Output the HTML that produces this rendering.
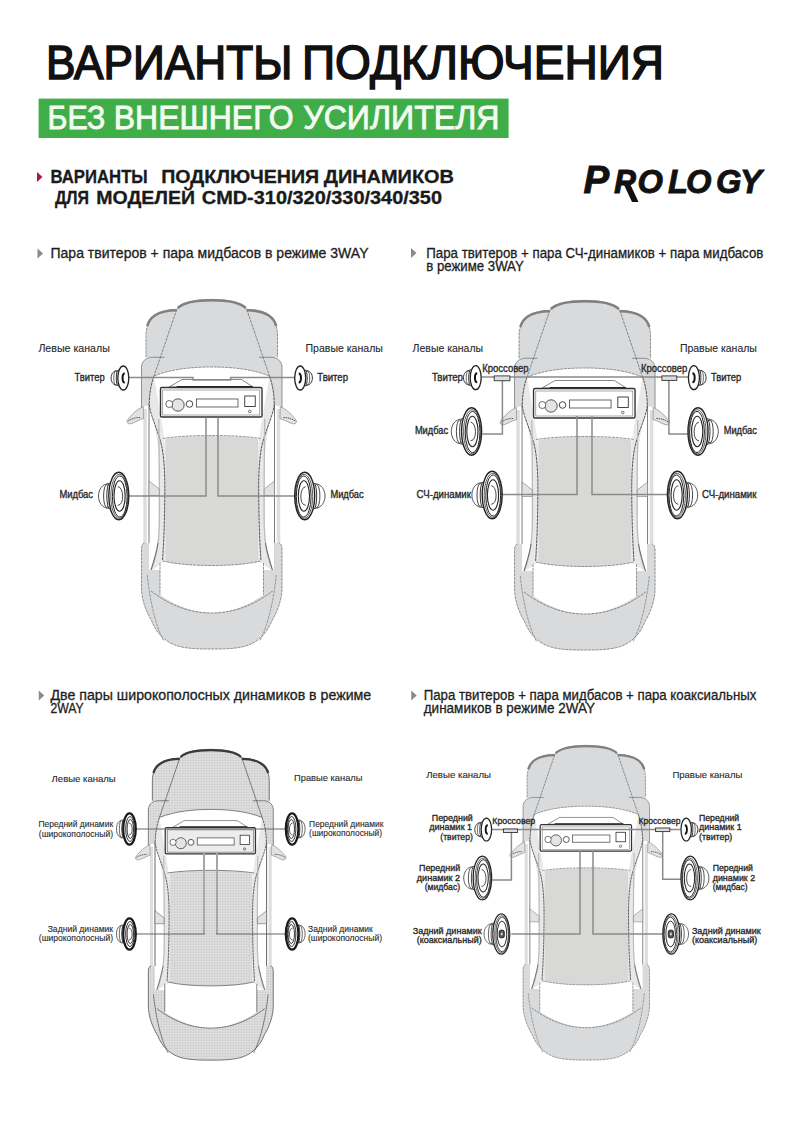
<!DOCTYPE html><html><head><meta charset="utf-8"><style>html,body{margin:0;padding:0;background:#fff;}svg{display:block;}</style></head><body>
<svg width="800" height="1131" viewBox="0 0 800 1131" style="font-family:'Liberation Sans', sans-serif">
<defs><pattern id="mesh" width="1.8" height="1.8" patternUnits="userSpaceOnUse"><rect width="1.8" height="1.8" fill="#ededed"/><rect width="1.8" height="0.6" fill="#c8c8c8"/><rect width="0.6" height="1.8" fill="#c8c8c8"/></pattern>
<g id="car">
  <!-- front panel (hood + fenders + A-pillar base) -->
  <path d="M0,0.4 C-18,0.4 -30,4 -35,10.4 C-43,10.4 -52,12.5 -58.5,17.5 C-63.5,22 -65.75,29 -65.75,36 L-65.75,58.25 L-59.25,58.25 C-64,58.25 -70.25,61 -70.25,68.5 L-70.25,108 L-62.75,106 C-62,96 -61,88 -57.75,77 C-40,70 -20,68 0,68 C20,68 40,70 57.75,77 C61,88 62,96 62.75,106 L70.25,108 L70.25,68.5 C70.25,61 64,58.25 59.25,58.25 L65.75,58.25 L65.75,36 C65.75,29 63.5,22 58.5,17.5 C52,12.5 43,10.4 35,10.4 C30,4 18,0.4 0,0.4 Z" fill="#d9dadc"/>
  <path d="M-65.75,58.25 L-65.75,36 C-65.75,29 -63.5,22 -58.5,17.5 C-52,12.5 -43,10.4 -35,10.4 C-30,4 -18,0.4 0,0.4 C18,0.4 30,4 35,10.4 C43,10.4 52,12.5 58.5,17.5 C63.5,22 65.75,29 65.75,36 L65.75,58.25" fill="none" stroke="#7a7a7a" stroke-width="0.8" stroke-dasharray="3 0.8"/>
  <path d="M-47.25,58.25 L-59.25,58.25 C-64,58.25 -70.25,61 -70.25,68.5 L-70.25,112" fill="none" stroke="#7a7a7a" stroke-width="0.8"/>
  <path d="M47.25,58.25 L59.25,58.25 C64,58.25 70.25,61 70.25,68.5 L70.25,112" fill="none" stroke="#7a7a7a" stroke-width="0.8"/>
  <!-- hood lines -->
  <path d="M-35,10.4 L-57.75,77 M35,10.4 L57.75,77" fill="none" stroke="#707070" stroke-width="0.8" stroke-dasharray="3 0.8"/>
  <path d="M-57.75,77 C-40,70 -20,68 0,68 C20,68 40,70 57.75,77" fill="none" stroke="#7a7a7a" stroke-width="0.8" stroke-dasharray="3 0.8"/>
  <!-- grille dark bands -->
  <path d="M-34,9 C-28,3 -16,1.2 0,1.2 C16,1.2 28,3 34,9" fill="none" stroke="#808080" stroke-width="2.6"/>
  <path d="M-64.5,27 C-63,21 -60,18.5 -57,16.5 C-51,12.5 -43,11.2 -35,11.2" fill="none" stroke="#808080" stroke-width="2.6"/>
  <path d="M64.5,27 C63,21 60,18.5 57,16.5 C51,12.5 43,11.2 35,11.2" fill="none" stroke="#808080" stroke-width="2.6"/>
  <!-- side strips -->
  <path d="M-68.5,110 L-65,110 L-65,270 L-68.5,270 Z M68.5,110 L65,110 L65,270 L68.5,270 Z" fill="#dedede"/>
  <path d="M-62.75,104 L-62.75,271 M62.75,104 L62.75,271" fill="none" stroke="#7a7a7a" stroke-width="1"/>
  <!-- light bands inside A-pillar -->
  <path d="M-62.75,106 C-58,118 -54,140 -53,160 L-53,228 C-53,245 -55,258 -61,272 L-46.5,262 L-46.5,150 C-48,130 -52,112 -57.75,77 C-61,88 -62,96 -62.75,106 Z" fill="#e8e8e8"/>
  <path d="M62.75,106 C58,118 54,140 53,160 L53,228 C53,245 55,258 61,272 L46.5,262 L46.5,150 C48,130 52,112 57.75,77 C61,88 62,96 62.75,106 Z" fill="#e8e8e8"/>
  <!-- roof -->
  <path d="M-46.5,140 C-25,136 25,136 46.5,140 L46.5,262.5 C25,268 -25,268 -46.5,262.5 Z" fill="#d8d8d7"/>
  <path d="M-48.75,139.5 C-25,135.5 25,135.5 48.75,139.5 M-48.75,262 C-25,268 25,268 48.75,262" fill="none" stroke="#7a7a7a" stroke-width="0.8" stroke-dasharray="3 0.8"/>
  <!-- A-pillar / side window dark curves -->
  <path d="M-57.75,77 C-61,86 -62.5,96 -62.5,106 C-61,118 -52,135 -49.5,150 C-47,165 -46.75,180 -47,200 C-47.25,230 -48.5,250 -49.15,261" fill="none" stroke="#444" stroke-width="0.9" stroke-dasharray="3 0.6"/>
  <path d="M57.75,77 C61,86 62.5,96 62.5,106 C61,118 52,135 49.5,150 C47,165 46.75,180 47,200 C47.25,230 48.5,250 49.15,261" fill="none" stroke="#444" stroke-width="0.9" stroke-dasharray="3 0.6"/>
  <path d="M-53,120 C-52.5,160 -52,200 -52.5,228 C-53,245 -55,258 -61,272 M53,120 C52.5,160 52,200 52.5,228 C53,245 55,258 61,272" fill="none" stroke="#bbb" stroke-width="1.3"/>
  <!-- small door panels -->
  <path d="M-62.75,182 L-52.5,190 L-52.5,196.5 L-62.75,196.5 Z M62.75,182 L52.5,190 L52.5,196.5 L62.75,196.5 Z" fill="#e2e2e2" stroke="#7a7a7a" stroke-width="0.6"/>
  <!-- mirrors -->
  <path d="M-68.5,107.5 C-74,110 -80,115 -84.5,121.5 C-85.5,124 -83,125.5 -80,124.5 C-76,123 -72,120.5 -68.25,119.5 Z" fill="#e2e2e2" stroke="#888" stroke-width="0.7"/><path d="M-83.5,122 C-80,119.5 -76,118.5 -71.5,118.5" fill="none" stroke="#444" stroke-width="0.9" stroke-dasharray="1.5 0.7"/>
  <path d="M68.5,107.5 C74,110 80,115 84.5,121.5 C85.5,124 83,125.5 80,124.5 C76,123 72,120.5 68.25,119.5 Z" fill="#e2e2e2" stroke="#888" stroke-width="0.7"/><path d="M83.5,122 C80,119.5 76,118.5 71.5,118.5" fill="none" stroke="#444" stroke-width="0.9" stroke-dasharray="1.5 0.7"/>
  <!-- rear panel -->
  <path d="M-67.25,244 C-68.5,244 -70.25,246 -70.25,250 L-70.25,289 C-70.25,300 -66,312 -60,322 C-55,335 -45,345 -30,348 C-20,350 -10,350 0,350 C10,350 20,350 30,348 C45,345 55,335 60,322 C66,312 70.25,300 70.25,289 L70.25,250 C70.25,246 68.5,244 67.25,244 L62.75,244 L62.75,271 L-62.75,271 L-62.75,244 Z" fill="#d9dadc"/>
  <path d="M-67.25,244 C-68.5,244 -70.25,246 -70.25,250 L-70.25,289 C-70.25,300 -66,312 -60,322 C-55,335 -45,345 -30,348 C-20,350 -10,350 0,350 C10,350 20,350 30,348 C45,345 55,335 60,322 C66,312 70.25,300 70.25,289 L70.25,250 C70.25,246 68.5,244 67.25,244" fill="none" stroke="#7a7a7a" stroke-width="0.8" stroke-dasharray="3 0.8"/>
  <path d="M-62.75,244 L-62.75,271 L-60.75,271 C-58,262 -55,252 -53.75,244 Z M62.75,244 L62.75,271 L60.75,271 C58,262 55,252 53.75,244 Z" fill="#fff"/>
  <path d="M-53.75,244 C-55,252 -58,262 -60.75,271 M53.75,244 C55,252 58,262 60.75,271" fill="none" stroke="#555" stroke-width="0.9"/>
  <path d="M-44,262.5 L-44,244 L-62.75,244 L-62.75,271 L-60.75,271 Z" fill="none"/>
  <!-- rear window -->
  <path d="M-51.75,264 C-25,269 25,269 51.75,264 L51.75,296 C40,304 20,314 0,314 C-20,314 -40,304 -51.75,296 Z" fill="#fff"/>
  <path d="M-51.75,264 L-51.75,296 M51.75,264 L51.75,296" fill="none" stroke="#7a7a7a" stroke-width="0.8" stroke-dasharray="3 0.8"/>
  <path d="M-60.75,292 C-45,304 -25,314 0,314 C25,314 45,304 60.75,292" fill="none" stroke="#707070" stroke-width="0.8" stroke-dasharray="3 0.8"/>
  <path d="M-64.5,276 C-62,300 -57,325 -48,342 M64.5,276 C62,300 57,325 48,342" fill="none" stroke="#7a7a7a" stroke-width="0.7" stroke-dasharray="3 0.8"/>
  <!-- head unit -->
  <path d="M-29.75,80.5 L29.75,80.5 L41.25,88 L-42.75,88 Z" fill="#fff" stroke="#555" stroke-width="0.7"/>
  <path d="M-35,87.6 L41,87.6" stroke="#222" stroke-width="1.2"/>
  <rect x="-51.25" y="88.5" width="101.5" height="29.5" rx="1.5" fill="#fff" stroke="#333" stroke-width="1.4"/>
  <rect x="-49" y="91" width="97" height="25" fill="none" stroke="#707070" stroke-width="0.6"/>
  <circle cx="-33.75" cy="106" r="6.2" fill="#e4e4e4" stroke="#444" stroke-width="0.9"/>
  <circle cx="-42.5" cy="105" r="3.5" fill="#fff" stroke="#444" stroke-width="0.8"/>
  <circle cx="-22.25" cy="105" r="3.3" fill="#fff" stroke="#333" stroke-width="0.9"/>
  <rect x="-15.25" y="100" width="41.5" height="8" fill="#fff" stroke="#444" stroke-width="0.8"/>
  <rect x="33" y="97" width="10.5" height="10.5" fill="#fff" stroke="#333" stroke-width="0.9"/>
  <circle cx="38" cy="112.5" r="1.3" fill="none" stroke="#333" stroke-width="0.7"/>
</g>

<g id="car3">
  <!-- front panel (hood + fenders + A-pillar base) -->
  <path d="M0,0.4 C-18,0.4 -30,4 -35,10.4 C-43,10.4 -52,12.5 -58.5,17.5 C-63.5,22 -65.75,29 -65.75,36 L-65.75,58.25 L-59.25,58.25 C-64,58.25 -70.25,61 -70.25,68.5 L-70.25,108 L-62.75,106 C-62,96 -61,88 -57.75,77 C-40,70 -20,68 0,68 C20,68 40,70 57.75,77 C61,88 62,96 62.75,106 L70.25,108 L70.25,68.5 C70.25,61 64,58.25 59.25,58.25 L65.75,58.25 L65.75,36 C65.75,29 63.5,22 58.5,17.5 C52,12.5 43,10.4 35,10.4 C30,4 18,0.4 0,0.4 Z" fill="url(#mesh)"/>
  <path d="M-65.75,58.25 L-65.75,36 C-65.75,29 -63.5,22 -58.5,17.5 C-52,12.5 -43,10.4 -35,10.4 C-30,4 -18,0.4 0,0.4 C18,0.4 30,4 35,10.4 C43,10.4 52,12.5 58.5,17.5 C63.5,22 65.75,29 65.75,36 L65.75,58.25" fill="none" stroke="#444" stroke-width="0.8" />
  <path d="M-47.25,58.25 L-59.25,58.25 C-64,58.25 -70.25,61 -70.25,68.5 L-70.25,112" fill="none" stroke="#555" stroke-width="0.8"/>
  <path d="M47.25,58.25 L59.25,58.25 C64,58.25 70.25,61 70.25,68.5 L70.25,112" fill="none" stroke="#555" stroke-width="0.8"/>
  <!-- hood lines -->
  <path d="M-35,10.4 L-57.75,77 M35,10.4 L57.75,77" fill="none" stroke="#555" stroke-width="0.8" />
  <path d="M-57.75,77 C-40,70 -20,68 0,68 C20,68 40,70 57.75,77" fill="none" stroke="#555" stroke-width="0.8" />
  <!-- grille dark bands -->
  <path d="M-34,9 C-28,3 -16,1.2 0,1.2 C16,1.2 28,3 34,9" fill="none" stroke="#3a3a3a" stroke-width="2.6"/>
  <path d="M-64.5,27 C-63,21 -60,18.5 -57,16.5 C-51,12.5 -43,11.2 -35,11.2" fill="none" stroke="#3a3a3a" stroke-width="2.6"/>
  <path d="M64.5,27 C63,21 60,18.5 57,16.5 C51,12.5 43,11.2 35,11.2" fill="none" stroke="#3a3a3a" stroke-width="2.6"/>
  <!-- side strips -->
  <path d="M-68.5,110 L-65,110 L-65,270 L-68.5,270 Z M68.5,110 L65,110 L65,270 L68.5,270 Z" fill="#dedede"/>
  <path d="M-62.75,104 L-62.75,271 M62.75,104 L62.75,271" fill="none" stroke="#555" stroke-width="1"/>
  <!-- light bands inside A-pillar -->
  <path d="M-62.75,106 C-58,118 -54,140 -53,160 L-53,228 C-53,245 -55,258 -61,272 L-46.5,262 L-46.5,150 C-48,130 -52,112 -57.75,77 C-61,88 -62,96 -62.75,106 Z" fill="#e8e8e8"/>
  <path d="M62.75,106 C58,118 54,140 53,160 L53,228 C53,245 55,258 61,272 L46.5,262 L46.5,150 C48,130 52,112 57.75,77 C61,88 62,96 62.75,106 Z" fill="#e8e8e8"/>
  <!-- roof -->
  <path d="M-46.5,140 C-25,136 25,136 46.5,140 L46.5,262.5 C25,268 -25,268 -46.5,262.5 Z" fill="url(#mesh)"/>
  <path d="M-48.75,139.5 C-25,135.5 25,135.5 48.75,139.5 M-48.75,262 C-25,268 25,268 48.75,262" fill="none" stroke="#555" stroke-width="0.8" />
  <!-- A-pillar / side window dark curves -->
  <path d="M-57.75,77 C-61,86 -62.5,96 -62.5,106 C-61,118 -52,135 -49.5,150 C-47,165 -46.75,180 -47,200 C-47.25,230 -48.5,250 -49.15,261" fill="none" stroke="#444" stroke-width="0.9" stroke-dasharray="3 0.6"/>
  <path d="M57.75,77 C61,86 62.5,96 62.5,106 C61,118 52,135 49.5,150 C47,165 46.75,180 47,200 C47.25,230 48.5,250 49.15,261" fill="none" stroke="#444" stroke-width="0.9" stroke-dasharray="3 0.6"/>
  <path d="M-53,120 C-52.5,160 -52,200 -52.5,228 C-53,245 -55,258 -61,272 M53,120 C52.5,160 52,200 52.5,228 C53,245 55,258 61,272" fill="none" stroke="#bbb" stroke-width="1.3"/>
  <!-- small door panels -->
  <path d="M-62.75,182 L-52.5,190 L-52.5,196.5 L-62.75,196.5 Z M62.75,182 L52.5,190 L52.5,196.5 L62.75,196.5 Z" fill="#e2e2e2" stroke="#555" stroke-width="0.6"/>
  <!-- mirrors -->
  <path d="M-68.5,107.5 C-74,110 -80,115 -84.5,121.5 C-85.5,124 -83,125.5 -80,124.5 C-76,123 -72,120.5 -68.25,119.5 Z" fill="#e2e2e2" stroke="#888" stroke-width="0.7"/><path d="M-83.5,122 C-80,119.5 -76,118.5 -71.5,118.5" fill="none" stroke="#444" stroke-width="0.9" stroke-dasharray="1.5 0.7"/>
  <path d="M68.5,107.5 C74,110 80,115 84.5,121.5 C85.5,124 83,125.5 80,124.5 C76,123 72,120.5 68.25,119.5 Z" fill="#e2e2e2" stroke="#888" stroke-width="0.7"/><path d="M83.5,122 C80,119.5 76,118.5 71.5,118.5" fill="none" stroke="#444" stroke-width="0.9" stroke-dasharray="1.5 0.7"/>
  <!-- rear panel -->
  <path d="M-67.25,244 C-68.5,244 -70.25,246 -70.25,250 L-70.25,289 C-70.25,300 -66,312 -60,322 C-55,335 -45,345 -30,348 C-20,350 -10,350 0,350 C10,350 20,350 30,348 C45,345 55,335 60,322 C66,312 70.25,300 70.25,289 L70.25,250 C70.25,246 68.5,244 67.25,244 L62.75,244 L62.75,271 L-62.75,271 L-62.75,244 Z" fill="url(#mesh)"/>
  <path d="M-67.25,244 C-68.5,244 -70.25,246 -70.25,250 L-70.25,289 C-70.25,300 -66,312 -60,322 C-55,335 -45,345 -30,348 C-20,350 -10,350 0,350 C10,350 20,350 30,348 C45,345 55,335 60,322 C66,312 70.25,300 70.25,289 L70.25,250 C70.25,246 68.5,244 67.25,244" fill="none" stroke="#444" stroke-width="0.8" />
  <path d="M-62.75,244 L-62.75,271 L-60.75,271 C-58,262 -55,252 -53.75,244 Z M62.75,244 L62.75,271 L60.75,271 C58,262 55,252 53.75,244 Z" fill="#fff"/>
  <path d="M-53.75,244 C-55,252 -58,262 -60.75,271 M53.75,244 C55,252 58,262 60.75,271" fill="none" stroke="#555" stroke-width="0.9"/>
  <path d="M-44,262.5 L-44,244 L-62.75,244 L-62.75,271 L-60.75,271 Z" fill="none"/>
  <!-- rear window -->
  <path d="M-51.75,264 C-25,269 25,269 51.75,264 L51.75,296 C40,304 20,314 0,314 C-20,314 -40,304 -51.75,296 Z" fill="#fff"/>
  <path d="M-51.75,264 L-51.75,296 M51.75,264 L51.75,296" fill="none" stroke="#555" stroke-width="0.8" />
  <path d="M-60.75,292 C-45,304 -25,314 0,314 C25,314 45,304 60.75,292" fill="none" stroke="#555" stroke-width="0.8" />
  <path d="M-64.5,276 C-62,300 -57,325 -48,342 M64.5,276 C62,300 57,325 48,342" fill="none" stroke="#444" stroke-width="0.7" />
  <!-- head unit -->
  <path d="M-29.75,80.5 L29.75,80.5 L41.25,88 L-42.75,88 Z" fill="#fff" stroke="#555" stroke-width="0.7"/>
  <path d="M-35,87.6 L41,87.6" stroke="#222" stroke-width="1.2"/>
  <rect x="-51.25" y="88.5" width="101.5" height="29.5" rx="1.5" fill="#ececec" stroke="#333" stroke-width="1.4"/>
  <rect x="-49" y="91" width="97" height="25" fill="none" stroke="#555" stroke-width="0.6"/>
  <circle cx="-33.75" cy="106" r="6.2" fill="#e4e4e4" stroke="#444" stroke-width="0.9"/>
  <circle cx="-42.5" cy="105" r="3.5" fill="#fff" stroke="#444" stroke-width="0.8"/>
  <circle cx="-22.25" cy="105" r="3.3" fill="#fff" stroke="#333" stroke-width="0.9"/>
  <rect x="-15.25" y="100" width="41.5" height="8" fill="#fff" stroke="#444" stroke-width="0.8"/>
  <rect x="33" y="97" width="10.5" height="10.5" fill="#fff" stroke="#333" stroke-width="0.9"/>
  <circle cx="38" cy="112.5" r="1.3" fill="none" stroke="#333" stroke-width="0.7"/>
</g>
</defs>
<rect width="800" height="1131" fill="#fff"/>
<text x="46" y="78.75" font-size="49" font-weight="normal" fill="#111" text-anchor="start" textLength="246.5" lengthAdjust="spacingAndGlyphs" stroke="#111" stroke-width="1.6">ВАРИАНТЫ</text>
<text x="302" y="78.75" font-size="49" font-weight="normal" fill="#111" text-anchor="start" textLength="362" lengthAdjust="spacingAndGlyphs" stroke="#111" stroke-width="1.6">ПОДКЛЮЧЕНИЯ</text>
<rect x="38.6" y="98.6" width="470" height="39.4" fill="#3fae49"/>
<text x="47.5" y="129" font-size="33.4" font-weight="normal" fill="#f2fbf0" text-anchor="start" textLength="57.75" lengthAdjust="spacingAndGlyphs" stroke="#f2fbf0" stroke-width="0.9">БЕЗ</text>
<text x="113.75" y="129" font-size="33.4" font-weight="normal" fill="#f2fbf0" text-anchor="start" textLength="179.75" lengthAdjust="spacingAndGlyphs" stroke="#f2fbf0" stroke-width="0.9">ВНЕШНЕГО</text>
<text x="303.25" y="129" font-size="33.4" font-weight="normal" fill="#f2fbf0" text-anchor="start" textLength="196.25" lengthAdjust="spacingAndGlyphs" stroke="#f2fbf0" stroke-width="0.9">УСИЛИТЕЛЯ</text>
<path d="M37,172 L42.5,177 L37,182 Z" fill="#a01c4c"/>
<text x="50.5" y="182.5" font-size="17.5" font-weight="bold" fill="#1a1a1a" text-anchor="start" textLength="97.25" lengthAdjust="spacingAndGlyphs" stroke="#1a1a1a" stroke-width="0.3">ВАРИАНТЫ</text>
<text x="161.2" y="182.5" font-size="17.5" font-weight="bold" fill="#1a1a1a" text-anchor="start" textLength="158.0" lengthAdjust="spacingAndGlyphs" stroke="#1a1a1a" stroke-width="0.3">ПОДКЛЮЧЕНИЯ</text>
<text x="323.7" y="182.5" font-size="17.5" font-weight="bold" fill="#1a1a1a" text-anchor="start" textLength="130.3" lengthAdjust="spacingAndGlyphs" stroke="#1a1a1a" stroke-width="0.3">ДИНАМИКОВ</text>
<text x="54.9" y="204" font-size="17.5" font-weight="bold" fill="#1a1a1a" text-anchor="start" textLength="34.1" lengthAdjust="spacingAndGlyphs" stroke="#1a1a1a" stroke-width="0.3">ДЛЯ</text>
<text x="96.25" y="204" font-size="17.5" font-weight="bold" fill="#1a1a1a" text-anchor="start" textLength="98.75" lengthAdjust="spacingAndGlyphs" stroke="#1a1a1a" stroke-width="0.3">МОДЕЛЕЙ</text>
<text x="201.75" y="204" font-size="17.5" font-weight="bold" fill="#1a1a1a" text-anchor="start" textLength="240.25" lengthAdjust="spacingAndGlyphs" stroke="#1a1a1a" stroke-width="0.3">CMD-310/320/330/340/350</text>
<text x="583.6" y="192.5" font-size="38.5" font-style="italic" font-weight="bold" fill="#111" stroke="#111" stroke-width="0.9">P</text>
<text x="614" y="192.5" font-size="32.7" font-style="italic" font-weight="bold" fill="#111" stroke="#111" stroke-width="0.9">P</text>
<text x="637.5" y="192.5" font-size="32.7" font-style="italic" font-weight="bold" fill="#111" stroke="#111" stroke-width="0.9">O</text>
<text x="668" y="192.5" font-size="32.7" font-style="italic" font-weight="bold" fill="#111" stroke="#111" stroke-width="0.9">L</text>
<text x="686" y="192.5" font-size="32.7" font-style="italic" font-weight="bold" fill="#111" stroke="#111" stroke-width="0.9">O</text>
<text x="716" y="192.5" font-size="32.7" font-style="italic" font-weight="bold" fill="#111" stroke="#111" stroke-width="0.9">G</text>
<text x="740" y="192.5" font-size="32.7" font-style="italic" font-weight="bold" fill="#111" stroke="#111" stroke-width="0.9">Y</text>
<path d="M622,180.5 L628.5,180.5 L638.5,202 L632,202 Z" fill="#111"/>
<path d="M37.5,248.5 L43.0,253.5 L37.5,258.5 Z" fill="#8a8a8a"/>
<text x="50.5" y="258.0" font-size="13.8" font-weight="normal" fill="#1e1e1e" text-anchor="start" textLength="318.0" lengthAdjust="spacingAndGlyphs" stroke="#1e1e1e" stroke-width="0.3">Пара твитеров + пара мидбасов в режиме 3WAY</text>
<path d="M411,248.0 L416.5,253.0 L411,258.0 Z" fill="#8a8a8a"/>
<text x="426.25" y="257.5" font-size="13.8" font-weight="normal" fill="#1e1e1e" text-anchor="start" textLength="337.1" lengthAdjust="spacingAndGlyphs" stroke="#1e1e1e" stroke-width="0.3">Пара твитеров + пара СЧ-динамиков + пара мидбасов</text>
<text x="426.25" y="270.8" font-size="13.8" font-weight="normal" fill="#1e1e1e" text-anchor="start" textLength="97.5" lengthAdjust="spacingAndGlyphs" stroke="#1e1e1e" stroke-width="0.3">в режиме 3WAY</text>
<path d="M38.75,690.5 L44.25,695.5 L38.75,700.5 Z" fill="#8a8a8a"/>
<text x="50.5" y="700.0" font-size="13.8" font-weight="normal" fill="#1e1e1e" text-anchor="start" textLength="320.7" lengthAdjust="spacingAndGlyphs" stroke="#1e1e1e" stroke-width="0.3">Две пары широкополосных динамиков в режиме</text>
<text x="50.5" y="713.3" font-size="13.8" font-weight="normal" fill="#1e1e1e" text-anchor="start" textLength="33.2" lengthAdjust="spacingAndGlyphs" stroke="#1e1e1e" stroke-width="0.3">2WAY</text>
<path d="M411.25,690.5 L416.75,695.5 L411.25,700.5 Z" fill="#8a8a8a"/>
<text x="423.75" y="700.0" font-size="13.8" font-weight="normal" fill="#1e1e1e" text-anchor="start" textLength="332.6" lengthAdjust="spacingAndGlyphs" stroke="#1e1e1e" stroke-width="0.3">Пара твитеров + пара мидбасов + пара коаксиальных</text>
<text x="423.75" y="713.3" font-size="13.8" font-weight="normal" fill="#1e1e1e" text-anchor="start" textLength="171.2" lengthAdjust="spacingAndGlyphs" stroke="#1e1e1e" stroke-width="0.3">динамиков в режиме 2WAY</text>
<use href="#car" transform="translate(211.75,299)"/>
<polyline points="129,377.5 193,377.5 193,380 230.6,380 230.6,377.5 295,377.5" stroke="#8a8a8a" stroke-width="1.5" fill="none"/>
<polyline points="129,496 206,496 206,417.5" stroke="#8a8a8a" stroke-width="1.5" fill="none"/>
<polyline points="295,496 218,496 218,417.5" stroke="#8a8a8a" stroke-width="1.5" fill="none"/>
<g transform="translate(123.3,378) scale(1.0,1.0)"><path d="M-5,-7.5 C-10,-7.5 -12.2,-4 -12.2,0 C-12.2,4 -10,7.5 -5,7.5 Z" fill="#fff" stroke="#333" stroke-width="1"/><ellipse cx="-7.5" cy="0" rx="2" ry="7" fill="none" stroke="#444" stroke-width="0.8"/><ellipse cx="-5" cy="0" rx="2" ry="8" fill="#fff" stroke="#333" stroke-width="1"/><ellipse cx="0" cy="0" rx="5.5" ry="12" fill="#fff" stroke="#222" stroke-width="1.3"/><path d="M1.5,-4.5 C-1.5,-4.5 -1.5,4.5 1.5,4.5" fill="none" stroke="#111" stroke-width="2"/></g>
<g transform="translate(300.2,378) scale(-1.0,1.0)"><path d="M-5,-7.5 C-10,-7.5 -12.2,-4 -12.2,0 C-12.2,4 -10,7.5 -5,7.5 Z" fill="#fff" stroke="#333" stroke-width="1"/><ellipse cx="-7.5" cy="0" rx="2" ry="7" fill="none" stroke="#444" stroke-width="0.8"/><ellipse cx="-5" cy="0" rx="2" ry="8" fill="#fff" stroke="#333" stroke-width="1"/><ellipse cx="0" cy="0" rx="5.5" ry="12" fill="#fff" stroke="#222" stroke-width="1.3"/><path d="M1.5,-4.5 C-1.5,-4.5 -1.5,4.5 1.5,4.5" fill="none" stroke="#111" stroke-width="2"/></g>
<g transform="translate(118.8,496) scale(1.0,1.0)"><path d="M-9,-12.5 C-17,-12.5 -20.3,-6 -20.3,0 C-20.3,6 -17,12.5 -9,12.5 Z" fill="#fff" stroke="#555" stroke-width="1"/><ellipse cx="-12" cy="0" rx="3.2" ry="11.5" fill="none" stroke="#333" stroke-width="0.9"/><ellipse cx="-9" cy="0" rx="3" ry="13" fill="#fff" stroke="#333" stroke-width="1"/><ellipse cx="0" cy="0" rx="10" ry="23.75" fill="#fff" stroke="#222" stroke-width="1.4"/><ellipse cx="0.6" cy="0.3" rx="8.6" ry="22" fill="none" stroke="#333" stroke-width="0.8"/><ellipse cx="1" cy="0.5" rx="7.4" ry="20.5" fill="none" stroke="#222" stroke-width="1"/><ellipse cx="0.8" cy="0" rx="5.6" ry="15.2" fill="none" stroke="#222" stroke-width="1.1"/><path d="M-1,-9.3 C5,-9.3 6,9.3 -1,9.3" fill="none" stroke="#333" stroke-width="0.9"/></g>
<g transform="translate(304.7,496) scale(-1.0,1.0)"><path d="M-9,-12.5 C-17,-12.5 -20.3,-6 -20.3,0 C-20.3,6 -17,12.5 -9,12.5 Z" fill="#fff" stroke="#555" stroke-width="1"/><ellipse cx="-12" cy="0" rx="3.2" ry="11.5" fill="none" stroke="#333" stroke-width="0.9"/><ellipse cx="-9" cy="0" rx="3" ry="13" fill="#fff" stroke="#333" stroke-width="1"/><ellipse cx="0" cy="0" rx="10" ry="23.75" fill="#fff" stroke="#222" stroke-width="1.4"/><ellipse cx="0.6" cy="0.3" rx="8.6" ry="22" fill="none" stroke="#333" stroke-width="0.8"/><ellipse cx="1" cy="0.5" rx="7.4" ry="20.5" fill="none" stroke="#222" stroke-width="1"/><ellipse cx="0.8" cy="0" rx="5.6" ry="15.2" fill="none" stroke="#222" stroke-width="1.1"/><path d="M-1,-9.3 C5,-9.3 6,9.3 -1,9.3" fill="none" stroke="#333" stroke-width="0.9"/></g>
<text x="38.4" y="351.8" font-size="10.8" font-weight="normal" fill="#2a2a2a" text-anchor="start" textLength="71.4" lengthAdjust="spacingAndGlyphs" stroke="#2a2a2a" stroke-width="0.12">Левые каналы</text>
<text x="305.5" y="351.8" font-size="10.8" font-weight="normal" fill="#2a2a2a" text-anchor="start" textLength="77.4" lengthAdjust="spacingAndGlyphs" stroke="#2a2a2a" stroke-width="0.12">Правые каналы</text>
<text x="74.5" y="380.7" font-size="10.4" font-weight="normal" fill="#2a2a2a" text-anchor="start" textLength="30.2" lengthAdjust="spacingAndGlyphs" stroke="#2a2a2a" stroke-width="0.35">Твитер</text>
<text x="317.3" y="380.7" font-size="10.4" font-weight="normal" fill="#2a2a2a" text-anchor="start" textLength="30.7" lengthAdjust="spacingAndGlyphs" stroke="#2a2a2a" stroke-width="0.35">Твитер</text>
<text x="59.4" y="498" font-size="10.4" font-weight="normal" fill="#2a2a2a" text-anchor="start" textLength="33.6" lengthAdjust="spacingAndGlyphs" stroke="#2a2a2a" stroke-width="0.35">Мидбас</text>
<text x="330.4" y="498" font-size="10.4" font-weight="normal" fill="#2a2a2a" text-anchor="start" textLength="33.3" lengthAdjust="spacingAndGlyphs" stroke="#2a2a2a" stroke-width="0.35">Мидбас</text>
<use href="#car" transform="translate(584.8,300)"/>
<polyline points="481.4,377 688.1,377" stroke="#8a8a8a" stroke-width="1.5" fill="none"/>
<polyline points="482.3,434 502.4,434 502.4,380" stroke="#8a8a8a" stroke-width="1.5" fill="none"/>
<polyline points="689,434 668.9,434 668.9,380" stroke="#8a8a8a" stroke-width="1.5" fill="none"/>
<polyline points="502.4,494.5 577,494.5 577,416" stroke="#8a8a8a" stroke-width="1.5" fill="none"/>
<polyline points="668,494.5 592,494.5 592,416" stroke="#8a8a8a" stroke-width="1.5" fill="none"/>
<rect x="494.2" y="375.9" width="15.7" height="4.85" fill="#ddd" stroke="#333" stroke-width="0.9"/>
<rect x="661.9" y="375.9" width="14.85" height="4.5" fill="#ddd" stroke="#333" stroke-width="0.9"/>
<g transform="translate(475.7,377.7) scale(1.0,1.0)"><path d="M-5,-7.5 C-10,-7.5 -12.2,-4 -12.2,0 C-12.2,4 -10,7.5 -5,7.5 Z" fill="#fff" stroke="#333" stroke-width="1"/><ellipse cx="-7.5" cy="0" rx="2" ry="7" fill="none" stroke="#444" stroke-width="0.8"/><ellipse cx="-5" cy="0" rx="2" ry="8" fill="#fff" stroke="#333" stroke-width="1"/><ellipse cx="0" cy="0" rx="5.5" ry="12" fill="#fff" stroke="#222" stroke-width="1.3"/><path d="M1.5,-4.5 C-1.5,-4.5 -1.5,4.5 1.5,4.5" fill="none" stroke="#111" stroke-width="2"/></g>
<g transform="translate(693.8999999999999,377.7) scale(-1.0,1.0)"><path d="M-5,-7.5 C-10,-7.5 -12.2,-4 -12.2,0 C-12.2,4 -10,7.5 -5,7.5 Z" fill="#fff" stroke="#333" stroke-width="1"/><ellipse cx="-7.5" cy="0" rx="2" ry="7" fill="none" stroke="#444" stroke-width="0.8"/><ellipse cx="-5" cy="0" rx="2" ry="8" fill="#fff" stroke="#333" stroke-width="1"/><ellipse cx="0" cy="0" rx="5.5" ry="12" fill="#fff" stroke="#222" stroke-width="1.3"/><path d="M1.5,-4.5 C-1.5,-4.5 -1.5,4.5 1.5,4.5" fill="none" stroke="#111" stroke-width="2"/></g>
<g transform="translate(471.6,431.5) scale(1.0,1.0)"><path d="M-9,-12.5 C-17,-12.5 -20.3,-6 -20.3,0 C-20.3,6 -17,12.5 -9,12.5 Z" fill="#fff" stroke="#555" stroke-width="1"/><ellipse cx="-12" cy="0" rx="3.2" ry="11.5" fill="none" stroke="#333" stroke-width="0.9"/><ellipse cx="-9" cy="0" rx="3" ry="13" fill="#fff" stroke="#333" stroke-width="1"/><ellipse cx="0" cy="0" rx="10" ry="23.75" fill="#fff" stroke="#222" stroke-width="1.4"/><ellipse cx="0.6" cy="0.3" rx="8.6" ry="22" fill="none" stroke="#333" stroke-width="0.8"/><ellipse cx="1" cy="0.5" rx="7.4" ry="20.5" fill="none" stroke="#222" stroke-width="1"/><ellipse cx="0.8" cy="0" rx="5.6" ry="15.2" fill="none" stroke="#222" stroke-width="1.1"/><path d="M-1,-9.3 C5,-9.3 6,9.3 -1,9.3" fill="none" stroke="#333" stroke-width="0.9"/></g>
<g transform="translate(697.9999999999999,431.5) scale(-1.0,1.0)"><path d="M-9,-12.5 C-17,-12.5 -20.3,-6 -20.3,0 C-20.3,6 -17,12.5 -9,12.5 Z" fill="#fff" stroke="#555" stroke-width="1"/><ellipse cx="-12" cy="0" rx="3.2" ry="11.5" fill="none" stroke="#333" stroke-width="0.9"/><ellipse cx="-9" cy="0" rx="3" ry="13" fill="#fff" stroke="#333" stroke-width="1"/><ellipse cx="0" cy="0" rx="10" ry="23.75" fill="#fff" stroke="#222" stroke-width="1.4"/><ellipse cx="0.6" cy="0.3" rx="8.6" ry="22" fill="none" stroke="#333" stroke-width="0.8"/><ellipse cx="1" cy="0.5" rx="7.4" ry="20.5" fill="none" stroke="#222" stroke-width="1"/><ellipse cx="0.8" cy="0" rx="5.6" ry="15.2" fill="none" stroke="#222" stroke-width="1.1"/><path d="M-1,-9.3 C5,-9.3 6,9.3 -1,9.3" fill="none" stroke="#333" stroke-width="0.9"/></g>
<g transform="translate(492.2,495) scale(1.0,1.0)"><path d="M-9,-12.5 C-17,-12.5 -20.3,-6 -20.3,0 C-20.3,6 -17,12.5 -9,12.5 Z" fill="#fff" stroke="#555" stroke-width="1"/><ellipse cx="-12" cy="0" rx="3.2" ry="11.5" fill="none" stroke="#333" stroke-width="0.9"/><ellipse cx="-9" cy="0" rx="3" ry="13" fill="#fff" stroke="#333" stroke-width="1"/><ellipse cx="0" cy="0" rx="10" ry="23.75" fill="#fff" stroke="#222" stroke-width="1.4"/><ellipse cx="0.6" cy="0.3" rx="8.6" ry="22" fill="none" stroke="#333" stroke-width="0.8"/><ellipse cx="1" cy="0.5" rx="7.4" ry="20.5" fill="none" stroke="#222" stroke-width="1"/><ellipse cx="0.8" cy="0" rx="5.6" ry="15.2" fill="none" stroke="#222" stroke-width="1.1"/><path d="M-1,-9.3 C5,-9.3 6,9.3 -1,9.3" fill="none" stroke="#333" stroke-width="0.9"/></g>
<g transform="translate(677.3999999999999,495) scale(-1.0,1.0)"><path d="M-9,-12.5 C-17,-12.5 -20.3,-6 -20.3,0 C-20.3,6 -17,12.5 -9,12.5 Z" fill="#fff" stroke="#555" stroke-width="1"/><ellipse cx="-12" cy="0" rx="3.2" ry="11.5" fill="none" stroke="#333" stroke-width="0.9"/><ellipse cx="-9" cy="0" rx="3" ry="13" fill="#fff" stroke="#333" stroke-width="1"/><ellipse cx="0" cy="0" rx="10" ry="23.75" fill="#fff" stroke="#222" stroke-width="1.4"/><ellipse cx="0.6" cy="0.3" rx="8.6" ry="22" fill="none" stroke="#333" stroke-width="0.8"/><ellipse cx="1" cy="0.5" rx="7.4" ry="20.5" fill="none" stroke="#222" stroke-width="1"/><ellipse cx="0.8" cy="0" rx="5.6" ry="15.2" fill="none" stroke="#222" stroke-width="1.1"/><path d="M-1,-9.3 C5,-9.3 6,9.3 -1,9.3" fill="none" stroke="#333" stroke-width="0.9"/></g>
<text x="412.6" y="352.4" font-size="10.8" font-weight="normal" fill="#2a2a2a" text-anchor="start" textLength="70.5" lengthAdjust="spacingAndGlyphs" stroke="#2a2a2a" stroke-width="0.12">Левые каналы</text>
<text x="679.9" y="351.9" font-size="10.8" font-weight="normal" fill="#2a2a2a" text-anchor="start" textLength="77.0" lengthAdjust="spacingAndGlyphs" stroke="#2a2a2a" stroke-width="0.12">Правые каналы</text>
<text x="431.9" y="380.75" font-size="10.4" font-weight="normal" fill="#2a2a2a" text-anchor="start" textLength="31.1" lengthAdjust="spacingAndGlyphs" stroke="#2a2a2a" stroke-width="0.35">Твитер</text>
<text x="710.9" y="380.75" font-size="10.4" font-weight="normal" fill="#2a2a2a" text-anchor="start" textLength="30.3" lengthAdjust="spacingAndGlyphs" stroke="#2a2a2a" stroke-width="0.35">Твитер</text>
<text x="482.3" y="372" font-size="10.4" font-weight="normal" fill="#2a2a2a" text-anchor="start" textLength="46.3" lengthAdjust="spacingAndGlyphs" stroke="#2a2a2a" stroke-width="0.35">Кроссовер</text>
<text x="640.9" y="372" font-size="10.4" font-weight="normal" fill="#2a2a2a" text-anchor="start" textLength="46.4" lengthAdjust="spacingAndGlyphs" stroke="#2a2a2a" stroke-width="0.35">Кроссовер</text>
<text x="414.9" y="434.1" font-size="10.4" font-weight="normal" fill="#2a2a2a" text-anchor="start" textLength="33.2" lengthAdjust="spacingAndGlyphs" stroke="#2a2a2a" stroke-width="0.35">Мидбас</text>
<text x="723.7" y="434.1" font-size="10.4" font-weight="normal" fill="#2a2a2a" text-anchor="start" textLength="33.2" lengthAdjust="spacingAndGlyphs" stroke="#2a2a2a" stroke-width="0.35">Мидбас</text>
<text x="416.6" y="498" font-size="10.4" font-weight="normal" fill="#2a2a2a" text-anchor="start" textLength="54.3" lengthAdjust="spacingAndGlyphs" stroke="#2a2a2a" stroke-width="0.35">СЧ-динамик</text>
<text x="702.1" y="498" font-size="10.4" font-weight="normal" fill="#2a2a2a" text-anchor="start" textLength="54.3" lengthAdjust="spacingAndGlyphs" stroke="#2a2a2a" stroke-width="0.35">СЧ-динамик</text>
<use href="#car3" transform="translate(210.8,749) scale(0.889)"/>
<polyline points="204,934 204,852" stroke="#a6a6a6" stroke-width="2" fill="none"/>
<polyline points="217,934 217,852" stroke="#a6a6a6" stroke-width="2" fill="none"/>
<polyline points="136,829 285,829" stroke="#666" stroke-width="1" fill="none"/>
<polyline points="136,934 205,934" stroke="#666" stroke-width="1.1" fill="none"/>
<polyline points="285,934 216,934" stroke="#666" stroke-width="1.1" fill="none"/>
<g transform="translate(129.5,829) scale(1,1)"><path d="M-6,-9 C-11.5,-9 -13,-4 -13,0 C-13,4 -11.5,9 -6,9 Z" fill="#fff" stroke="#555" stroke-width="0.9"/><ellipse cx="-8" cy="0" rx="2.2" ry="8.5" fill="none" stroke="#444" stroke-width="0.8"/><ellipse cx="-5.5" cy="0" rx="2.2" ry="9.5" fill="#eee" stroke="#333" stroke-width="1"/><ellipse cx="0" cy="0" rx="6.3" ry="15.6" fill="#fff" stroke="#1a1a1a" stroke-width="2.2"/><ellipse cx="0.5" cy="0" rx="4.3" ry="12.5" fill="none" stroke="#333" stroke-width="1"/><ellipse cx="0.8" cy="0" rx="3.2" ry="9.5" fill="none" stroke="#222" stroke-width="0.9"/><path d="M-0.5,-6 C3.5,-6 4,6 -0.5,6" fill="none" stroke="#333" stroke-width="0.8"/></g>
<g transform="translate(292.1,829) scale(-1,1)"><path d="M-6,-9 C-11.5,-9 -13,-4 -13,0 C-13,4 -11.5,9 -6,9 Z" fill="#fff" stroke="#555" stroke-width="0.9"/><ellipse cx="-8" cy="0" rx="2.2" ry="8.5" fill="none" stroke="#444" stroke-width="0.8"/><ellipse cx="-5.5" cy="0" rx="2.2" ry="9.5" fill="#eee" stroke="#333" stroke-width="1"/><ellipse cx="0" cy="0" rx="6.3" ry="15.6" fill="#fff" stroke="#1a1a1a" stroke-width="2.2"/><ellipse cx="0.5" cy="0" rx="4.3" ry="12.5" fill="none" stroke="#333" stroke-width="1"/><ellipse cx="0.8" cy="0" rx="3.2" ry="9.5" fill="none" stroke="#222" stroke-width="0.9"/><path d="M-0.5,-6 C3.5,-6 4,6 -0.5,6" fill="none" stroke="#333" stroke-width="0.8"/></g>
<g transform="translate(129.5,934) scale(1,1)"><path d="M-6,-9 C-11.5,-9 -13,-4 -13,0 C-13,4 -11.5,9 -6,9 Z" fill="#fff" stroke="#555" stroke-width="0.9"/><ellipse cx="-8" cy="0" rx="2.2" ry="8.5" fill="none" stroke="#444" stroke-width="0.8"/><ellipse cx="-5.5" cy="0" rx="2.2" ry="9.5" fill="#eee" stroke="#333" stroke-width="1"/><ellipse cx="0" cy="0" rx="6.3" ry="15.6" fill="#fff" stroke="#1a1a1a" stroke-width="2.2"/><ellipse cx="0.5" cy="0" rx="4.3" ry="12.5" fill="none" stroke="#333" stroke-width="1"/><ellipse cx="0.8" cy="0" rx="3.2" ry="9.5" fill="none" stroke="#222" stroke-width="0.9"/><path d="M-0.5,-6 C3.5,-6 4,6 -0.5,6" fill="none" stroke="#333" stroke-width="0.8"/></g>
<g transform="translate(292.1,934) scale(-1,1)"><path d="M-6,-9 C-11.5,-9 -13,-4 -13,0 C-13,4 -11.5,9 -6,9 Z" fill="#fff" stroke="#555" stroke-width="0.9"/><ellipse cx="-8" cy="0" rx="2.2" ry="8.5" fill="none" stroke="#444" stroke-width="0.8"/><ellipse cx="-5.5" cy="0" rx="2.2" ry="9.5" fill="#eee" stroke="#333" stroke-width="1"/><ellipse cx="0" cy="0" rx="6.3" ry="15.6" fill="#fff" stroke="#1a1a1a" stroke-width="2.2"/><ellipse cx="0.5" cy="0" rx="4.3" ry="12.5" fill="none" stroke="#333" stroke-width="1"/><ellipse cx="0.8" cy="0" rx="3.2" ry="9.5" fill="none" stroke="#222" stroke-width="0.9"/><path d="M-0.5,-6 C3.5,-6 4,6 -0.5,6" fill="none" stroke="#333" stroke-width="0.8"/></g>
<text x="51.6" y="781.6" font-size="9.8" font-weight="normal" fill="#2a2a2a" text-anchor="start" textLength="64.1" lengthAdjust="spacingAndGlyphs" stroke="#2a2a2a" stroke-width="0.12">Левые каналы</text>
<text x="294" y="781.2" font-size="9.8" font-weight="normal" fill="#2a2a2a" text-anchor="start" textLength="68.5" lengthAdjust="spacingAndGlyphs" stroke="#2a2a2a" stroke-width="0.12">Правые каналы</text>
<text x="38.5" y="827.2" font-size="8.8" font-weight="normal" fill="#2a2a2a" text-anchor="start" textLength="74.6" lengthAdjust="spacingAndGlyphs" stroke="#2a2a2a" stroke-width="0.12">Передний динамик</text>
<text x="38.8" y="836.5" font-size="8.8" font-weight="normal" fill="#2a2a2a" text-anchor="start" textLength="74.3" lengthAdjust="spacingAndGlyphs" stroke="#2a2a2a" stroke-width="0.12">(широкополосный)</text>
<text x="309.1" y="826.8" font-size="8.8" font-weight="normal" fill="#2a2a2a" text-anchor="start" textLength="74.3" lengthAdjust="spacingAndGlyphs" stroke="#2a2a2a" stroke-width="0.12">Передний динамик</text>
<text x="309.1" y="835.7" font-size="8.8" font-weight="normal" fill="#2a2a2a" text-anchor="start" textLength="72.9" lengthAdjust="spacingAndGlyphs" stroke="#2a2a2a" stroke-width="0.12">(широкополосный)</text>
<text x="47.7" y="932.4" font-size="8.8" font-weight="normal" fill="#2a2a2a" text-anchor="start" textLength="65.4" lengthAdjust="spacingAndGlyphs" stroke="#2a2a2a" stroke-width="0.12">Задний динамик</text>
<text x="38.8" y="940.8" font-size="8.8" font-weight="normal" fill="#2a2a2a" text-anchor="start" textLength="74.3" lengthAdjust="spacingAndGlyphs" stroke="#2a2a2a" stroke-width="0.12">(широкополосный)</text>
<text x="308" y="931.8" font-size="8.8" font-weight="normal" fill="#2a2a2a" text-anchor="start" textLength="64.8" lengthAdjust="spacingAndGlyphs" stroke="#2a2a2a" stroke-width="0.12">Задний динамик</text>
<text x="308" y="940.8" font-size="8.8" font-weight="normal" fill="#2a2a2a" text-anchor="start" textLength="74" lengthAdjust="spacingAndGlyphs" stroke="#2a2a2a" stroke-width="0.12">(широкополосный)</text>
<use href="#car" transform="translate(586.3,745) scale(0.9)"/>
<polyline points="491.9,829.5 680.4,829.5" stroke="#8a8a8a" stroke-width="1.5" fill="none"/>
<polyline points="492.3,880 511.4,880 511.4,832" stroke="#8a8a8a" stroke-width="1.5" fill="none"/>
<polyline points="681.3,879.3 662.7,879.3 662.7,831.6" stroke="#8a8a8a" stroke-width="1.5" fill="none"/>
<polyline points="511.4,934 580,934 580,851" stroke="#8a8a8a" stroke-width="1.5" fill="none"/>
<polyline points="662.7,934 593,934 593,851" stroke="#8a8a8a" stroke-width="1.5" fill="none"/>
<rect x="503.4" y="829" width="14.2" height="3.5" fill="#ddd" stroke="#333" stroke-width="0.9"/>
<rect x="655.6" y="828" width="14.2" height="3.6" fill="#ddd" stroke="#333" stroke-width="0.9"/>
<g transform="translate(486.4,829.6) scale(0.95,0.95)"><path d="M-5,-7.5 C-10,-7.5 -12.2,-4 -12.2,0 C-12.2,4 -10,7.5 -5,7.5 Z" fill="#fff" stroke="#333" stroke-width="1"/><ellipse cx="-7.5" cy="0" rx="2" ry="7" fill="none" stroke="#444" stroke-width="0.8"/><ellipse cx="-5" cy="0" rx="2" ry="8" fill="#fff" stroke="#333" stroke-width="1"/><ellipse cx="0" cy="0" rx="5.5" ry="12" fill="#fff" stroke="#222" stroke-width="1.3"/><path d="M1.5,-4.5 C-1.5,-4.5 -1.5,4.5 1.5,4.5" fill="none" stroke="#111" stroke-width="2"/></g>
<g transform="translate(686.1999999999999,829.6) scale(-0.95,0.95)"><path d="M-5,-7.5 C-10,-7.5 -12.2,-4 -12.2,0 C-12.2,4 -10,7.5 -5,7.5 Z" fill="#fff" stroke="#333" stroke-width="1"/><ellipse cx="-7.5" cy="0" rx="2" ry="7" fill="none" stroke="#444" stroke-width="0.8"/><ellipse cx="-5" cy="0" rx="2" ry="8" fill="#fff" stroke="#333" stroke-width="1"/><ellipse cx="0" cy="0" rx="5.5" ry="12" fill="#fff" stroke="#222" stroke-width="1.3"/><path d="M1.5,-4.5 C-1.5,-4.5 -1.5,4.5 1.5,4.5" fill="none" stroke="#111" stroke-width="2"/></g>
<g transform="translate(482.4,878) scale(0.92,0.92)"><path d="M-9,-12.5 C-17,-12.5 -20.3,-6 -20.3,0 C-20.3,6 -17,12.5 -9,12.5 Z" fill="#fff" stroke="#555" stroke-width="1"/><ellipse cx="-12" cy="0" rx="3.2" ry="11.5" fill="none" stroke="#333" stroke-width="0.9"/><ellipse cx="-9" cy="0" rx="3" ry="13" fill="#fff" stroke="#333" stroke-width="1"/><ellipse cx="0" cy="0" rx="10" ry="23.75" fill="#fff" stroke="#222" stroke-width="1.4"/><ellipse cx="0.6" cy="0.3" rx="8.6" ry="22" fill="none" stroke="#333" stroke-width="0.8"/><ellipse cx="1" cy="0.5" rx="7.4" ry="20.5" fill="none" stroke="#222" stroke-width="1"/><ellipse cx="0.8" cy="0" rx="5.6" ry="15.2" fill="none" stroke="#222" stroke-width="1.1"/><path d="M-1,-9.3 C5,-9.3 6,9.3 -1,9.3" fill="none" stroke="#333" stroke-width="0.9"/></g>
<g transform="translate(690.1999999999999,878) scale(-0.92,0.92)"><path d="M-9,-12.5 C-17,-12.5 -20.3,-6 -20.3,0 C-20.3,6 -17,12.5 -9,12.5 Z" fill="#fff" stroke="#555" stroke-width="1"/><ellipse cx="-12" cy="0" rx="3.2" ry="11.5" fill="none" stroke="#333" stroke-width="0.9"/><ellipse cx="-9" cy="0" rx="3" ry="13" fill="#fff" stroke="#333" stroke-width="1"/><ellipse cx="0" cy="0" rx="10" ry="23.75" fill="#fff" stroke="#222" stroke-width="1.4"/><ellipse cx="0.6" cy="0.3" rx="8.6" ry="22" fill="none" stroke="#333" stroke-width="0.8"/><ellipse cx="1" cy="0.5" rx="7.4" ry="20.5" fill="none" stroke="#222" stroke-width="1"/><ellipse cx="0.8" cy="0" rx="5.6" ry="15.2" fill="none" stroke="#222" stroke-width="1.1"/><path d="M-1,-9.3 C5,-9.3 6,9.3 -1,9.3" fill="none" stroke="#333" stroke-width="0.9"/></g>
<g transform="translate(501.3,934) scale(0.85,0.85)"><path d="M-9,-12.5 C-17,-12.5 -20.3,-6 -20.3,0 C-20.3,6 -17,12.5 -9,12.5 Z" fill="#fff" stroke="#555" stroke-width="1"/><ellipse cx="-12" cy="0" rx="3.2" ry="11.5" fill="none" stroke="#333" stroke-width="0.9"/><ellipse cx="-9" cy="0" rx="3" ry="13" fill="#fff" stroke="#333" stroke-width="1"/><ellipse cx="0" cy="0" rx="10" ry="23.75" fill="#fff" stroke="#222" stroke-width="1.4"/><ellipse cx="0.6" cy="0.3" rx="8.6" ry="22" fill="none" stroke="#333" stroke-width="0.8"/><ellipse cx="1" cy="0.5" rx="7.4" ry="20.5" fill="none" stroke="#222" stroke-width="1"/><ellipse cx="0.8" cy="0" rx="5.6" ry="15.2" fill="none" stroke="#222" stroke-width="1.1"/><rect x="-2.5" y="-4.5" width="6" height="9" rx="2" fill="#555" stroke="#111" stroke-width="1"/><rect x="-0.5" y="-1.5" width="2" height="3" fill="#ddd"/></g>
<g transform="translate(671.3,934) scale(-0.85,0.85)"><path d="M-9,-12.5 C-17,-12.5 -20.3,-6 -20.3,0 C-20.3,6 -17,12.5 -9,12.5 Z" fill="#fff" stroke="#555" stroke-width="1"/><ellipse cx="-12" cy="0" rx="3.2" ry="11.5" fill="none" stroke="#333" stroke-width="0.9"/><ellipse cx="-9" cy="0" rx="3" ry="13" fill="#fff" stroke="#333" stroke-width="1"/><ellipse cx="0" cy="0" rx="10" ry="23.75" fill="#fff" stroke="#222" stroke-width="1.4"/><ellipse cx="0.6" cy="0.3" rx="8.6" ry="22" fill="none" stroke="#333" stroke-width="0.8"/><ellipse cx="1" cy="0.5" rx="7.4" ry="20.5" fill="none" stroke="#222" stroke-width="1"/><ellipse cx="0.8" cy="0" rx="5.6" ry="15.2" fill="none" stroke="#222" stroke-width="1.1"/><rect x="-2.5" y="-4.5" width="6" height="9" rx="2" fill="#555" stroke="#111" stroke-width="1"/><rect x="-0.5" y="-1.5" width="2" height="3" fill="#ddd"/></g>
<text x="426.2" y="777.7" font-size="9.8" font-weight="normal" fill="#2a2a2a" text-anchor="start" textLength="64.8" lengthAdjust="spacingAndGlyphs" stroke="#2a2a2a" stroke-width="0.12">Левые каналы</text>
<text x="672.4" y="777.7" font-size="9.8" font-weight="normal" fill="#2a2a2a" text-anchor="start" textLength="69.9" lengthAdjust="spacingAndGlyphs" stroke="#2a2a2a" stroke-width="0.12">Правые каналы</text>
<text x="492.3" y="824" font-size="9.5" font-weight="normal" fill="#2a2a2a" text-anchor="start" textLength="42.9" lengthAdjust="spacingAndGlyphs" stroke="#2a2a2a" stroke-width="0.35">Кроссовер</text>
<text x="638.5" y="824" font-size="9.5" font-weight="normal" fill="#2a2a2a" text-anchor="start" textLength="41.9" lengthAdjust="spacingAndGlyphs" stroke="#2a2a2a" stroke-width="0.35">Кроссовер</text>
<text x="431.8" y="821" font-size="9.5" font-weight="normal" fill="#2a2a2a" text-anchor="start" textLength="41.0" lengthAdjust="spacingAndGlyphs" stroke="#2a2a2a" stroke-width="0.35">Передний</text>
<text x="429.2" y="830.4" font-size="9.5" font-weight="normal" fill="#2a2a2a" text-anchor="start" textLength="42.9" lengthAdjust="spacingAndGlyphs" stroke="#2a2a2a" stroke-width="0.35">динамик 1</text>
<text x="440.3" y="840.4" font-size="9.5" font-weight="normal" fill="#2a2a2a" text-anchor="start" textLength="32.5" lengthAdjust="spacingAndGlyphs" stroke="#2a2a2a" stroke-width="0.35">(твитер)</text>
<text x="699" y="821" font-size="9.5" font-weight="normal" fill="#2a2a2a" text-anchor="start" textLength="40.2" lengthAdjust="spacingAndGlyphs" stroke="#2a2a2a" stroke-width="0.35">Передний</text>
<text x="699" y="830.4" font-size="9.5" font-weight="normal" fill="#2a2a2a" text-anchor="start" textLength="42.7" lengthAdjust="spacingAndGlyphs" stroke="#2a2a2a" stroke-width="0.35">динамик 1</text>
<text x="699" y="840.4" font-size="9.5" font-weight="normal" fill="#2a2a2a" text-anchor="start" textLength="33.2" lengthAdjust="spacingAndGlyphs" stroke="#2a2a2a" stroke-width="0.35">(твитер)</text>
<text x="419" y="871" font-size="9.5" font-weight="normal" fill="#2a2a2a" text-anchor="start" textLength="41.1" lengthAdjust="spacingAndGlyphs" stroke="#2a2a2a" stroke-width="0.35">Передний</text>
<text x="416.8" y="880.7" font-size="9.5" font-weight="normal" fill="#2a2a2a" text-anchor="start" textLength="43.3" lengthAdjust="spacingAndGlyphs" stroke="#2a2a2a" stroke-width="0.35">динамик 2</text>
<text x="424.7" y="890" font-size="9.5" font-weight="normal" fill="#2a2a2a" text-anchor="start" textLength="35.4" lengthAdjust="spacingAndGlyphs" stroke="#2a2a2a" stroke-width="0.35">(мидбас)</text>
<text x="712.7" y="871" font-size="9.5" font-weight="normal" fill="#2a2a2a" text-anchor="start" textLength="40.2" lengthAdjust="spacingAndGlyphs" stroke="#2a2a2a" stroke-width="0.35">Передний</text>
<text x="712.7" y="880.7" font-size="9.5" font-weight="normal" fill="#2a2a2a" text-anchor="start" textLength="42.5" lengthAdjust="spacingAndGlyphs" stroke="#2a2a2a" stroke-width="0.35">динамик 2</text>
<text x="712.7" y="890" font-size="9.5" font-weight="normal" fill="#2a2a2a" text-anchor="start" textLength="34.9" lengthAdjust="spacingAndGlyphs" stroke="#2a2a2a" stroke-width="0.35">(мидбас)</text>
<text x="412.7" y="934.1" font-size="9.5" font-weight="normal" fill="#2a2a2a" text-anchor="start" textLength="69.0" lengthAdjust="spacingAndGlyphs" stroke="#2a2a2a" stroke-width="0.35">Задний динамик</text>
<text x="416.8" y="943" font-size="9.5" font-weight="normal" fill="#2a2a2a" text-anchor="start" textLength="64.9" lengthAdjust="spacingAndGlyphs" stroke="#2a2a2a" stroke-width="0.35">(коаксиальный)</text>
<text x="691.9" y="934.1" font-size="9.5" font-weight="normal" fill="#2a2a2a" text-anchor="start" textLength="68.9" lengthAdjust="spacingAndGlyphs" stroke="#2a2a2a" stroke-width="0.35">Задний динамик</text>
<text x="691.9" y="943" font-size="9.5" font-weight="normal" fill="#2a2a2a" text-anchor="start" textLength="65.4" lengthAdjust="spacingAndGlyphs" stroke="#2a2a2a" stroke-width="0.35">(коаксиальный)</text>
</svg></body></html>
